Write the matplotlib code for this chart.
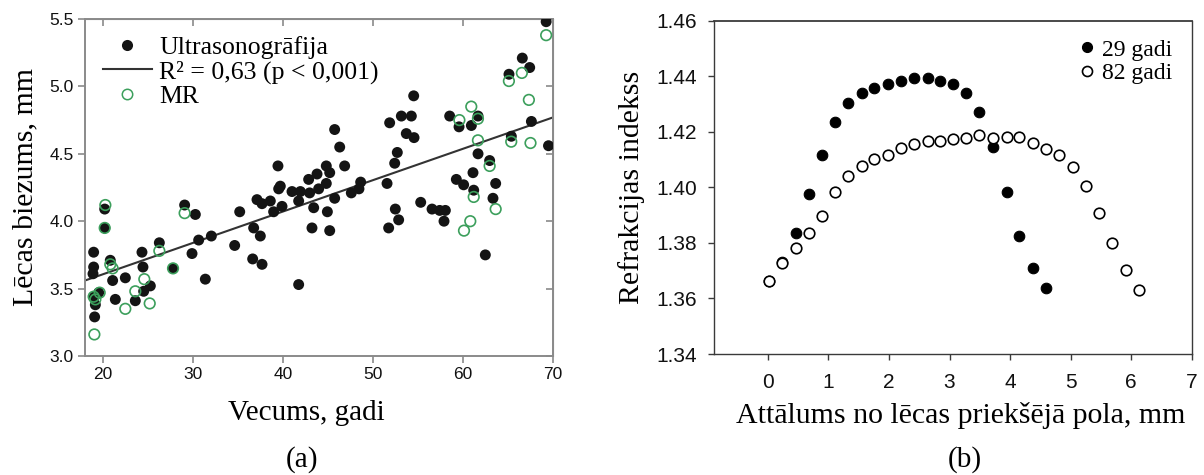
import matplotlib
matplotlib.use('Agg')
import matplotlib.pyplot as plt
from matplotlib.ticker import FormatStrFormatter
from matplotlib.lines import Line2D

# ---------------- data: panel (a) ----------------
us_age = [39.44, 42.85, 43.78, 39.70, 39.52, 41.00, 41.93, 42.96, 43.96, 37.11,
          37.67, 38.59, 38.96, 39.89, 41.74, 43.41, 43.22, 36.74, 37.48, 35.19,
          34.63, 36.63, 37.67, 41.74, 32.04, 30.63, 29.89, 31.37, 29.07, 30.26,
          26.26, 24.33, 24.44, 25.26, 24.52, 23.59, 22.48, 21.37, 21.07, 20.81,
          27.78, 20.19, 20.19, 18.96, 18.96, 18.89, 19.52, 19.04, 19.15, 19.07,
          52.41, 44.81, 46.85, 45.19, 44.81, 48.63, 48.44, 47.59, 45.74, 51.56,
          44.93, 45.19, 52.48, 52.85, 51.74, 55.30, 56.56, 57.41, 58.04, 57.89,
          59.26, 60.07, 61.11, 61.19, 63.63, 63.33, 62.48, 62.96,
          66.59, 67.41, 65.11, 54.52, 51.85, 53.15, 54.26, 53.70, 54.56, 45.74,
          46.30, 58.52, 59.56, 60.93, 61.67, 67.60, 65.37, 61.67, 52.70,
          69.24, 69.50]
us_thick = [4.41, 4.31, 4.35, 4.26, 4.24, 4.22, 4.22, 4.21, 4.24, 4.16,
            4.13, 4.15, 4.07, 4.11, 4.15, 4.10, 3.95, 3.95, 3.89, 4.07,
            3.82, 3.72, 3.68, 3.53, 3.89, 3.86, 3.76, 3.57, 4.12, 4.05,
            3.84, 3.77, 3.66, 3.52, 3.48, 3.41, 3.58, 3.42, 3.56, 3.71,
            3.65, 4.09, 3.95, 3.77, 3.66, 3.61, 3.47, 3.44, 3.38, 3.29,
            4.43, 4.41, 4.41, 4.36, 4.28, 4.29, 4.24, 4.21, 4.17, 4.28,
            4.07, 3.93, 4.09, 4.01, 3.95, 4.14, 4.09, 4.08, 4.08, 4.00,
            4.31, 4.27, 4.36, 4.23, 4.28, 4.17, 3.75, 4.45,
            5.21, 5.14, 5.09, 4.93, 4.73, 4.78, 4.78, 4.65, 4.62, 4.68,
            4.55, 4.78, 4.70, 4.71, 4.78, 4.74, 4.63, 4.50, 4.51,
            5.48, 4.56]

mr_age = [20.26, 29.07, 26.26, 20.81, 21.07, 27.78, 24.59, 23.59, 22.48, 25.19,
          19.63, 18.96, 19.15, 19.04, 20.19,
          62.96, 61.19, 63.63, 60.81, 60.11,
          69.24, 66.54, 65.10, 67.32, 60.92, 61.66, 59.60, 61.66, 65.36, 67.50]
mr_thick = [4.12, 4.06, 3.78, 3.68, 3.65, 3.65, 3.57, 3.48, 3.35, 3.39,
            3.47, 3.44, 3.42, 3.16, 3.95,
            4.41, 4.18, 4.09, 4.00, 3.93,
            5.38, 5.10, 5.04, 4.90, 4.85, 4.76, 4.75, 4.60, 4.59, 4.58]

fit_age = [18.0, 70.0]
fit_thick = [3.56, 4.77]

a_xticks = [20, 30, 40, 50, 60, 70]
a_yticks = [3.0, 3.5, 4.0, 4.5, 5.0, 5.5]

# ---------------- data: panel (b) ----------------
dist_29 = [0.02, 0.24, 0.46, 0.68, 0.89, 1.11, 1.33, 1.55, 1.76, 1.98, 2.20,
           2.41, 2.64, 2.84, 3.06, 3.28, 3.48, 3.71, 3.95, 4.15, 4.38, 4.60]
ri_29 = [1.3664, 1.3732, 1.3837, 1.3975, 1.4116, 1.4234, 1.4302, 1.4339, 1.4357,
         1.4371, 1.4384, 1.4393, 1.4393, 1.4384, 1.4371, 1.4341, 1.4272, 1.4146,
         1.3982, 1.3825, 1.3708, 1.3636]
dist_82 = [0.02, 0.24, 0.46, 0.68, 0.89, 1.11, 1.33, 1.55, 1.76, 1.98, 2.20,
           2.41, 2.64, 2.84, 3.06, 3.28, 3.48, 3.71, 3.95, 4.15, 4.38, 4.60,
           4.80, 5.04, 5.25, 5.47, 5.69, 5.91, 6.13]
ri_82 = [1.3662, 1.3726, 1.3783, 1.3837, 1.3897, 1.3982, 1.4041, 1.4077, 1.4101,
         1.4116, 1.4140, 1.4155, 1.4167, 1.4167, 1.4173, 1.4179, 1.4188, 1.4176,
         1.4182, 1.4182, 1.4158, 1.4137, 1.4116, 1.4074, 1.4005, 1.3906, 1.3800,
         1.3704, 1.3632]

b_xticks = [0, 1, 2, 3, 4, 5, 6, 7]
b_yticks = [1.34, 1.36, 1.38, 1.40, 1.42, 1.44, 1.46]

SERIF = 'Liberation Serif'
SANS = 'Liberation Sans'
GREEN = '#3c9f5c'
GRAY = '#8a8a8a'

W, H = 1204, 475
fig = plt.figure(figsize=(W / 100, H / 100), dpi=100)

# ================= panel (a) =================
axL = fig.add_axes([85 / W, 1 - 356 / H, 468 / W, 337 / H])
axL.scatter(us_age, us_thick, s=62, color='#141414', edgecolors='none', zorder=3)
axL.plot(fit_age, fit_thick, color='#333333', lw=1.5, zorder=2)
axL.scatter(mr_age, mr_thick, s=58, facecolors='none', edgecolors=GREEN,
            linewidths=1.2, zorder=4)
axL.set_xlim(18, 70)
axL.set_ylim(3.0, 5.5)
axL.set_xticks(a_xticks)
axL.set_yticks(a_yticks)
axL.yaxis.set_major_formatter(FormatStrFormatter('%.1f'))
for sp in axL.spines.values():
    sp.set_color(GRAY)
    sp.set_linewidth(1.4)
axL.tick_params(direction='out', length=5, width=1.2, color=GRAY,
                labelsize=12.5, pad=3, labelcolor='#111111')
for lab in axL.get_xticklabels() + axL.get_yticklabels():
    lab.set_fontfamily(SANS)
# inward ticks on top and right
secx = axL.secondary_xaxis('top')
secx.set_xticks(a_xticks)
secx.tick_params(direction='in', length=5, width=1.2, color=GRAY, labeltop=False)
secx.spines['top'].set_color(GRAY)
secy = axL.secondary_yaxis('right')
secy.set_yticks(a_yticks)
secy.tick_params(direction='in', length=5, width=1.2, color=GRAY, labelright=False)
secy.spines['right'].set_color(GRAY)

axL.set_xlabel('Vecums, gadi', fontfamily=SERIF, fontsize=21)
axL.xaxis.set_label_coords(0.472, -0.13)
axL.set_ylabel('Lēcas biezums, mm', fontfamily=SERIF, fontsize=21.5)
axL.yaxis.set_label_coords(-0.10, 0.5)

handles = [
    Line2D([], [], marker='o', linestyle='none', markersize=8,
           markerfacecolor='#141414', markeredgecolor='none'),
    Line2D([], [], color='#333333', lw=1.5),
    Line2D([], [], marker='o', linestyle='none', markersize=7.5,
           markerfacecolor='none', markeredgecolor=GREEN, markeredgewidth=1.1),
]
labels = ['Ultrasonogrāfija', 'R² = 0,63 (p < 0,001)', 'MR']
legL = axL.legend(handles, labels, loc='upper left', bbox_to_anchor=(0.038, 0.95),
                  frameon=False, borderpad=0, borderaxespad=0, handlelength=1.9,
                  handletextpad=0.3, labelspacing=0.05,
                  prop={'family': SERIF, 'size': 18.5})

fig.text(301.7 / W, 1 - 460 / H, '(a)', fontfamily=SERIF, fontsize=21,
         ha='center', va='center')

# ================= panel (b) =================
axR = fig.add_axes([714 / W, 1 - 354 / H, 477.7 / W, 333.3 / H])
axR.plot(dist_29, ri_29, 'o', markersize=7.6, markerfacecolor='black',
         markeredgecolor='black', markeredgewidth=0.8, label='29 gadi', zorder=3)
axR.plot(dist_82, ri_82, 'o', markersize=7.6, markerfacecolor='white',
         markeredgecolor='black', markeredgewidth=1.2, label='82 gadi', zorder=4)
axR.set_xlim(-0.89, 7)
axR.set_ylim(1.34, 1.46)
axR.set_xticks(b_xticks)
axR.set_yticks(b_yticks)
axR.yaxis.set_major_formatter(FormatStrFormatter('%.2f'))
for sp in axR.spines.values():
    sp.set_color('#3a3a3a')
    sp.set_linewidth(1.0)
axR.spines['top'].set_linewidth(1.3)
axR.tick_params(direction='out', length=4, width=1.0, color='#3a3a3a',
                labelsize=15, labelcolor='#111111')
axR.tick_params(axis='x', pad=10)
axR.tick_params(axis='y', pad=8)
for lab in axR.get_xticklabels() + axR.get_yticklabels():
    lab.set_fontfamily(SANS)
axR.set_xlabel('Attālums no lēcas priekšējā pola, mm', fontfamily=SERIF, fontsize=21.5)
axR.xaxis.set_label_coords(0.517, -0.145)
axR.set_ylabel('Refrakcijas indekss', fontfamily=SERIF, fontsize=21.5)
axR.yaxis.set_label_coords(-0.145, 0.5)
axR.legend(loc='upper right', bbox_to_anchor=(0.96, 0.945), frameon=False,
           borderpad=0, borderaxespad=0, handlelength=0.6, handletextpad=0.35,
           labelspacing=0.1, markerscale=0.95,
           prop={'family': SERIF, 'size': 17})

fig.text(965 / W, 1 - 460 / H, '(b)', fontfamily=SERIF, fontsize=21,
         ha='center', va='center')

fig.savefig('out.png', dpi=100)
